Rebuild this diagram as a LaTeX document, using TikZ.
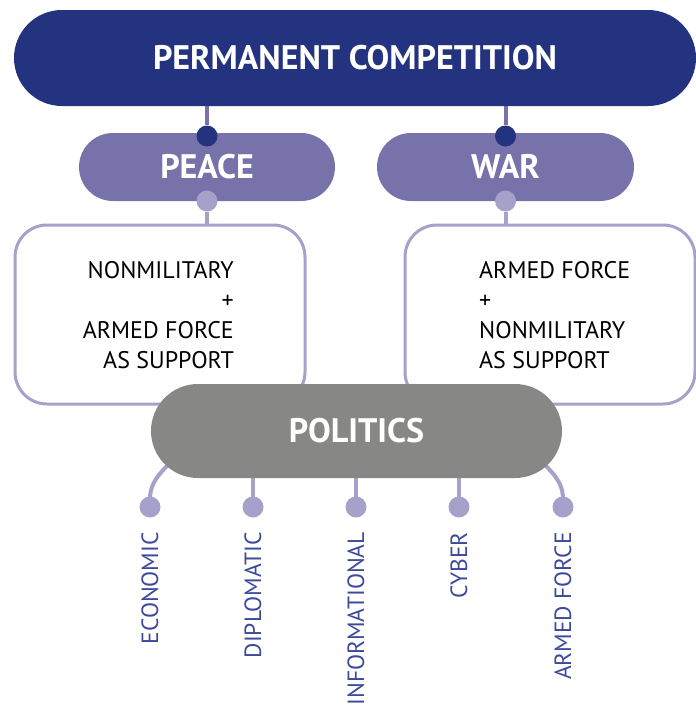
\documentclass[tikz,border=0pt]{standalone}
\usepackage{fontspec}
\setmainfont{PT Sans}
\usetikzlibrary{positioning,backgrounds}
\definecolor{navy}{HTML}{233380}
\definecolor{peacewar}{HTML}{7772AA}
\definecolor{lilac}{HTML}{A6A1CA}
\definecolor{polgray}{HTML}{878886}
\definecolor{lblue}{HTML}{3D4A9C}

\begin{document}
\begin{tikzpicture}[x=1pt,y=-1pt,
   pill/.style={rounded corners=#1, text=white, inner sep=0pt,
     font=\bfseries\fontsize{34}{40}\selectfont},
   dot/.style={circle, inner sep=0pt, minimum size=21pt},
   box/.style={draw=lilac, line width=3pt, rounded corners=32pt, fill=white,
     minimum width=290pt, minimum height=179pt},
   boxtext/.style={font=\fontsize{24}{30}\selectfont, inner sep=0pt},
   sidelabel/.style={rotate=90, anchor=east, text=lblue, inner sep=0pt,
     font=\fontsize{23.5}{28}\selectfont},
   link/.style={line width=4pt, lilac}]
   \useasboundingbox (0,0) rectangle (696,707);
   % top level
   \node[pill=48pt, fill=navy, minimum width=682pt, minimum height=96pt] (comp) at (355,58) {PERMANENT COMPETITION};
   \node[pill=34pt, fill=peacewar, minimum width=256pt, minimum height=68pt] (peace) at (207,167) {PEACE};
   \node[pill=34pt, fill=peacewar, minimum width=257pt, minimum height=68pt] (war) at (505.5,167) {WAR};
   \node[dot, fill=navy] (ptop) at (207,136) {};
   \node[dot, fill=navy] (wtop) at (505.5,136) {};
   \node[dot, fill=lilac] (pbot) at (207,201) {};
   \node[dot, fill=lilac] (wbot) at (505.5,201) {};
   \begin{scope}[on background layer]
     \draw[link, peacewar] (comp.south -| ptop) -- (ptop);
     \draw[link, peacewar] (comp.south -| wtop) -- (wtop);
   \end{scope}
   % the two boxes
   \node[box] (peacebox) at (160,314.5) {};
   \node[box] (warbox) at (550,314.5) {};
   \draw[link] (pbot) -- (pbot |- peacebox.north);
   \draw[link] (wbot) -- (wbot |- warbox.north);
   \node[boxtext, anchor=east, align=right] (peacetxt) at (234,315) {NONMILITARY\\+\\ARMED FORCE\\AS SUPPORT};
   \node[boxtext, anchor=west, align=left] (wartxt) at (479,315) {ARMED FORCE\\+\\NONMILITARY\\AS SUPPORT};
   % politics and its instruments
   \node[pill=47pt, fill=polgray, minimum width=411pt, minimum height=94pt] (pol) at (356.5,431) {POLITICS};
   \foreach \x/\name [count=\i] in {150/ECONOMIC,253/DIPLOMATIC,356/INFORMATIONAL,459/CYBER,563/ARMED FORCE}{
     \node[dot, fill=lilac] (d\i) at (\x,507) {};
     \node[sidelabel] (l\i) at (\x,532) {\name};
   }
   \begin{scope}[on background layer]
     \draw[link] (d1.center) -- ++(0,-8) to[out=90,in=240] ([xshift=30pt,yshift=30pt]pol.south west);
     \draw[link] (d5.center) -- ++(0,-8) to[out=90,in=300] ([xshift=-30pt,yshift=30pt]pol.south east);
     \foreach \i in {2,3,4}
       \draw[link] (d\i.center) -- (d\i |- pol.center);
   \end{scope}
\end{tikzpicture}
\end{document}
